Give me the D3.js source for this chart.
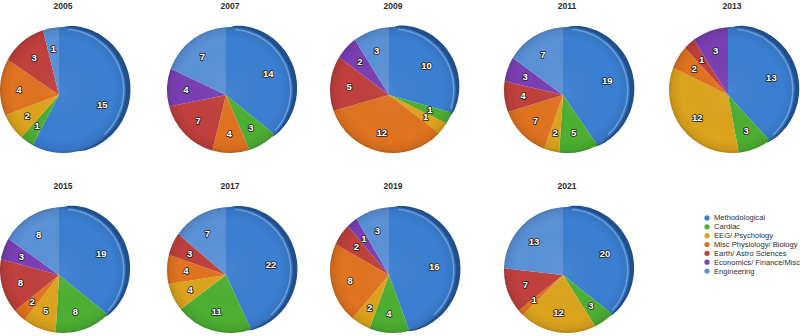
<!DOCTYPE html>
<html><head><meta charset="utf-8">
<script src="https://cdn.jsdelivr.net/npm/d3@7"></script>
<style>body{margin:0;background:#fff}</style>
</head><body><svg id="c" width="800" height="336"></svg>
<script>
const categories = ["Methodological","Cardiac","EEG/ Psychology","Misc Physiology/ Biology","Earth/ Astro Sciences","Economics/ Finance/Misc","Engineering"];
const colors = ["#3a7fd1","#4caf32","#dca31c","#e0731f","#c0403c","#7a3fb4","#5a91d7"];
const years = ["2005","2007","2009","2011","2013","2015","2017","2019","2021"];
const y2005 = [15,1,2,4,3,0,1];
const y2007 = [14,3,0,4,7,4,7];
const y2009 = [10,1,1,12,5,2,3];
const y2011 = [19,5,2,7,4,3,7];
const y2013 = [13,3,12,2,1,3,0];
const y2015 = [19,8,5,2,8,3,8];
const y2017 = [22,11,4,4,3,0,7];
const y2019 = [16,4,2,8,2,1,3];
const y2021 = [20,3,12,1,7,0,13];
const seriesByYear = [y2005,y2007,y2009,y2011,y2013,y2015,y2017,y2019,y2021];

const svg = d3.select("#c");
const defs = svg.append("defs");
const R = 63;
const colX = [63,230,393,567,732];
const rowY = [90,270];
const vOff = [-4,5];

const rg = defs.append("radialGradient").attr("id","rim").attr("cx","50%").attr("cy","50%").attr("r","50%");
[[0,"#fff",0.05],[0.8,"#000",0],[0.95,"#000",0.07],[1,"#000",0.18]].forEach(s=>
  rg.append("stop").attr("offset",s[0]).attr("stop-color",s[1]).attr("stop-opacity",s[2]));
const dg = defs.append("radialGradient").attr("id","depth").attr("cx","50%").attr("cy","50%").attr("r","50%");
[[0.9,"#2d62a6"],[0.96,"#24528c"],[1,"#163a68"]].forEach(s=>
  dg.append("stop").attr("offset",s[0]).attr("stop-color",s[1]));

const pie = d3.pie().sort(null).value(d=>d);

function hit(cx,cy,vx,vy,a){
  const dx=Math.sin(a), dy=-Math.cos(a);
  const wx=vx-cx, wy=vy-cy;
  const b=wx*dx+wy*dy, c=wx*wx+wy*wy-R*R;
  const t=-b+Math.sqrt(b*b-c);
  return {x:vx+t*dx,y:vy+t*dy,t:t};
}
// angle (d3 convention, from 12 o'clock clockwise) seen from the circle centre
function centreAngle(cx,cy,p){ return Math.atan2(p.x-cx, -(p.y-cy)); }
function slicePath(cx,cy,vx,vy,a0,a1){
  if(a1-a0>=2*Math.PI-1e-6){const p=d3.path();p.arc(cx,cy,R,0,2*Math.PI);return p.toString();}
  const p0=hit(cx,cy,vx,vy,a0), p1=hit(cx,cy,vx,vy,a1);
  let t0=Math.atan2(p0.y-cy,p0.x-cx), t1=Math.atan2(p1.y-cy,p1.x-cx);
  while(t1<=t0+1e-9) t1+=2*Math.PI;
  const p=d3.path();
  p.moveTo(vx,vy); p.lineTo(p0.x,p0.y); p.arc(cx,cy,R,t0,t1,false); p.closePath();
  return p.toString();
}

seriesByYear.forEach((vals,i)=>{
  const cx=colX[i%5], cy=rowY[Math.floor(i/5)];
  const vx=cx+vOff[0], vy=cy+vOff[1];
  const g=svg.append("g");
  g.append("text").attr("x",cx).attr("y",cy-81).attr("text-anchor","middle")
   .attr("font-family","Liberation Sans, Arial, sans-serif").attr("font-size",8.5).attr("font-weight","bold")
   .attr("fill","#2b2b2b").text(years[i]);
  const arcs=pie(vals);
  const blue=arcs[0];
  // side wall (depth) of the first slice
  let s0=centreAngle(cx,cy,hit(cx,cy,vx,vy,blue.startAngle));
  let s1=centreAngle(cx,cy,hit(cx,cy,vx,vy,blue.endAngle));
  if(s0<-0.5) s0+=2*Math.PI;
  while(s1<=s0) s1+=2*Math.PI;
  const e0=s0+0.08, e1=Math.min(s1+0.05, 2.9);
  const angs=d3.range(0,61).map(k=>e0+(e1-e0)*k/60);
  const wid=a=>{const u=(a-e0)/(e1-e0); return 5.2*Math.pow(Math.sin(Math.PI*u),0.55)*(1-0.25*u);};
  const area=d3.areaRadial().angle(a=>a).innerRadius(R-2).outerRadius(a=>R+wid(a)).curve(d3.curveBasis);
  g.append("path").attr("transform",`translate(${cx},${cy})`).attr("d",area(angs)).attr("fill","#204f8c");
  g.selectAll("path.s").data(arcs.filter(d=>d.value>0)).join("path").attr("class","s")
   .attr("d",d=>slicePath(cx,cy,vx,vy,d.startAngle,d.endAngle))
   .attr("fill",d=>colors[d.index]);
  g.append("circle").attr("cx",cx).attr("cy",cy).attr("r",R).attr("fill","url(#rim)");
  // glossy highlight along the first slice rim
  const hl=d3.lineRadial().angle(a=>a).radius(R-2.2).curve(d3.curveBasis);
  const h0=s0+0.15, h1=Math.min(s1-0.05,2.4);
  if(h1>h0){
    g.append("path").attr("transform",`translate(${cx},${cy})`)
     .attr("d",hl(d3.range(0,31).map(k=>h0+(h1-h0)*k/30)))
     .attr("fill","none").attr("stroke","#8fc0f2").attr("stroke-opacity",0.55).attr("stroke-width",1.6);
  }
  g.selectAll("text.l").data(arcs.filter(d=>d.value>0)).join("text").attr("class","l")
   .each(function(d){
     const m=(d.startAngle+d.endAngle)/2;
     const h=hit(cx,cy,vx,vy,m);
     const k=0.68;
     d3.select(this).attr("x",vx+(h.x-vx)*k).attr("y",vy+(h.y-vy)*k-1);
   })
   .attr("text-anchor","middle").attr("dominant-baseline","central")
   .attr("font-family","Liberation Sans, Arial, sans-serif").attr("font-size",9.5).attr("font-weight","bold")
   .attr("fill","#fff").attr("stroke","#262626").attr("stroke-width",1.7).attr("paint-order","stroke")
   .attr("stroke-linejoin","round").text(d=>d.value);
});

const lg=svg.append("g");
const ly=d3.scaleBand().domain(categories).range([213.5,275.5]);
categories.forEach((c,i)=>{
  const y=ly(c)+ly.bandwidth()/2;
  lg.append("circle").attr("cx",707).attr("cy",y).attr("r",2.6).attr("fill",colors[i]);
  lg.append("text").attr("x",714).attr("y",y).attr("dominant-baseline","central")
   .attr("font-family","Liberation Sans, Arial, sans-serif").attr("font-size",7.6).attr("fill","#2e2e2e").text(c);
});
</script></body></html>
